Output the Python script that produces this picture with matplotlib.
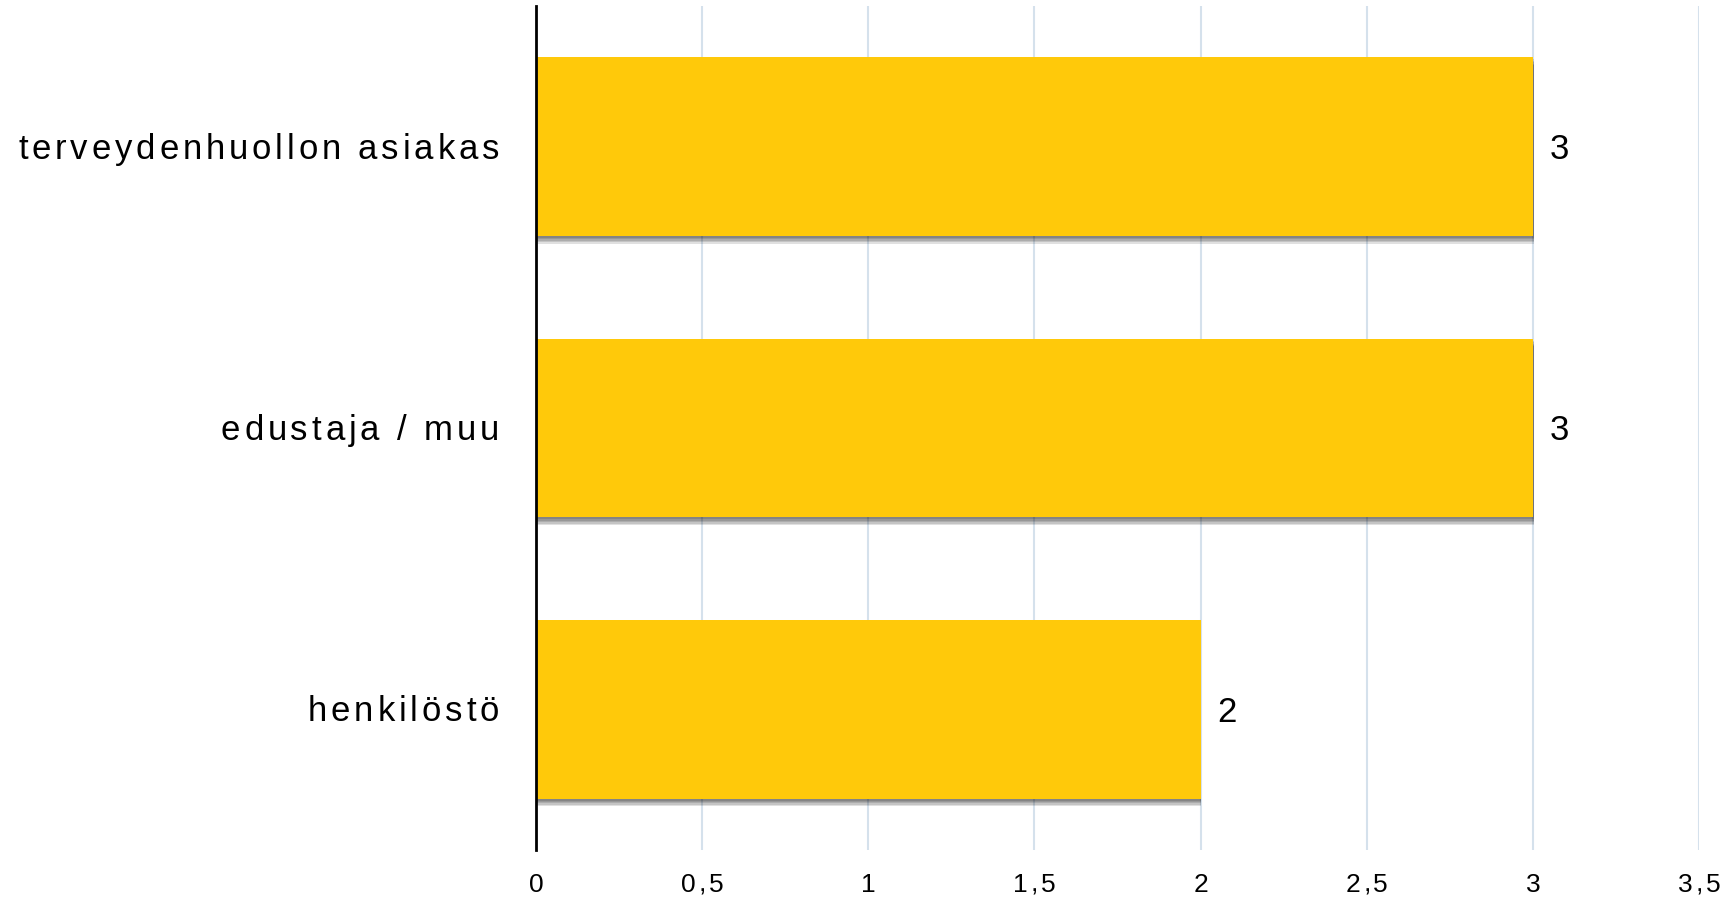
import matplotlib
matplotlib.use("Agg")
import matplotlib.pyplot as plt
import matplotlib.patheffects as pe
import matplotlib.transforms as mtransforms
from matplotlib.font_manager import FontProperties, findfont, get_font

categories = ["terveydenhuollon asiakas", "edustaja / muu", "henkilöstö"]
values = [3, 3, 2]
xticks = [0, 0.5, 1, 1.5, 2, 2.5, 3, 3.5]
xtick_labels = ["0", "0,5", "1", "1,5", "2", "2,5", "3", "3,5"]

plt.rcParams['font.family'] = ['Liberation Sans', 'DejaVu Sans']
DPI = 100
fig = plt.figure(figsize=(17.26, 8.98), dpi=DPI)
ax = fig.add_axes([0.3105, 0.0535, 0.6739, 0.9398])

prop_base = FontProperties(family='Liberation Sans')


def advances(s, size_pt):
    font = get_font(findfont(prop_base))
    font.set_size(size_pt, DPI)
    out = []
    for ch in s:
        try:
            from matplotlib.ft2font import LoadFlags
            g = font.load_char(ord(ch), flags=LoadFlags.NO_HINTING)
        except Exception:
            g = font.load_char(ord(ch))
        out.append(g.linearHoriAdvance / 65536.0)
    return out


def spaced_text(x, y, s, size_pt, spacing_px, align, base_trans, dy_px=0.0):
    adv = advances(s, size_pt)
    total = sum(adv) + spacing_px * (len(s) - 1)
    if align == 'right':
        start = -total
    elif align == 'center':
        start = -total / 2.0
    else:
        start = 0.0
    pos = start
    for ch, a in zip(s, adv):
        tr = base_trans + mtransforms.ScaledTranslation(pos / DPI, -dy_px / DPI, fig.dpi_scale_trans)
        ax.text(x, y, ch, transform=tr, ha='left', va='baseline', fontsize=size_pt,
                color='black', clip_on=False)
        pos += a + spacing_px


ypos = list(range(len(categories)))
shadows = [pe.SimplePatchShadow(offset=(0.6, -k), shadow_rgbFace="#000000", alpha=0.12)
           for k in (5.5, 4.5, 3.5, 2.5, 1.5)]
ax.barh(ypos, values, height=0.635, color="#FFC90A", zorder=3,
        path_effects=shadows + [pe.Normal()])

ax.set_xlim(0, 3.5)
ax.set_ylim(len(categories) - 0.5, -0.5)
ax.set_xticks(xticks)
ax.set_xticklabels([])
ax.set_yticks(ypos)
ax.set_yticklabels([])
ax.tick_params(axis='both', length=0)

ax.grid(axis='x', color="#D5E1EC", linewidth=1.5, zorder=0)
ax.set_axisbelow(True)
for s in ["top", "right", "bottom"]:
    ax.spines[s].set_visible(False)
ax.spines["left"].set_color("black")
ax.spines["left"].set_linewidth(2)
ax.spines["left"].set_zorder(5)

# category labels (letter-spaced)
ytrans = mtransforms.blended_transform_factory(ax.transAxes, ax.transData)
for y, lab in zip(ypos, categories):
    spaced_text(0, y, lab, 25, 3.85, 'right',
                ytrans + mtransforms.ScaledTranslation(-37 / DPI, 0, fig.dpi_scale_trans),
                dy_px=12)

# x tick labels (letter-spaced)
xtrans = mtransforms.blended_transform_factory(ax.transData, ax.transAxes)
for xv, lab in zip(xticks, xtick_labels):
    spaced_text(xv, 0, lab, 19, 3.0, 'center', xtrans, dy_px=42)

# value labels
for y, v in zip(ypos, values):
    tr = ax.transData + mtransforms.ScaledTranslation(17 / DPI, -12.5 / DPI, fig.dpi_scale_trans)
    ax.text(v, y, str(v), transform=tr, va="baseline", ha="left", fontsize=25, color="black")

fig.savefig("out.png", dpi=DPI)
